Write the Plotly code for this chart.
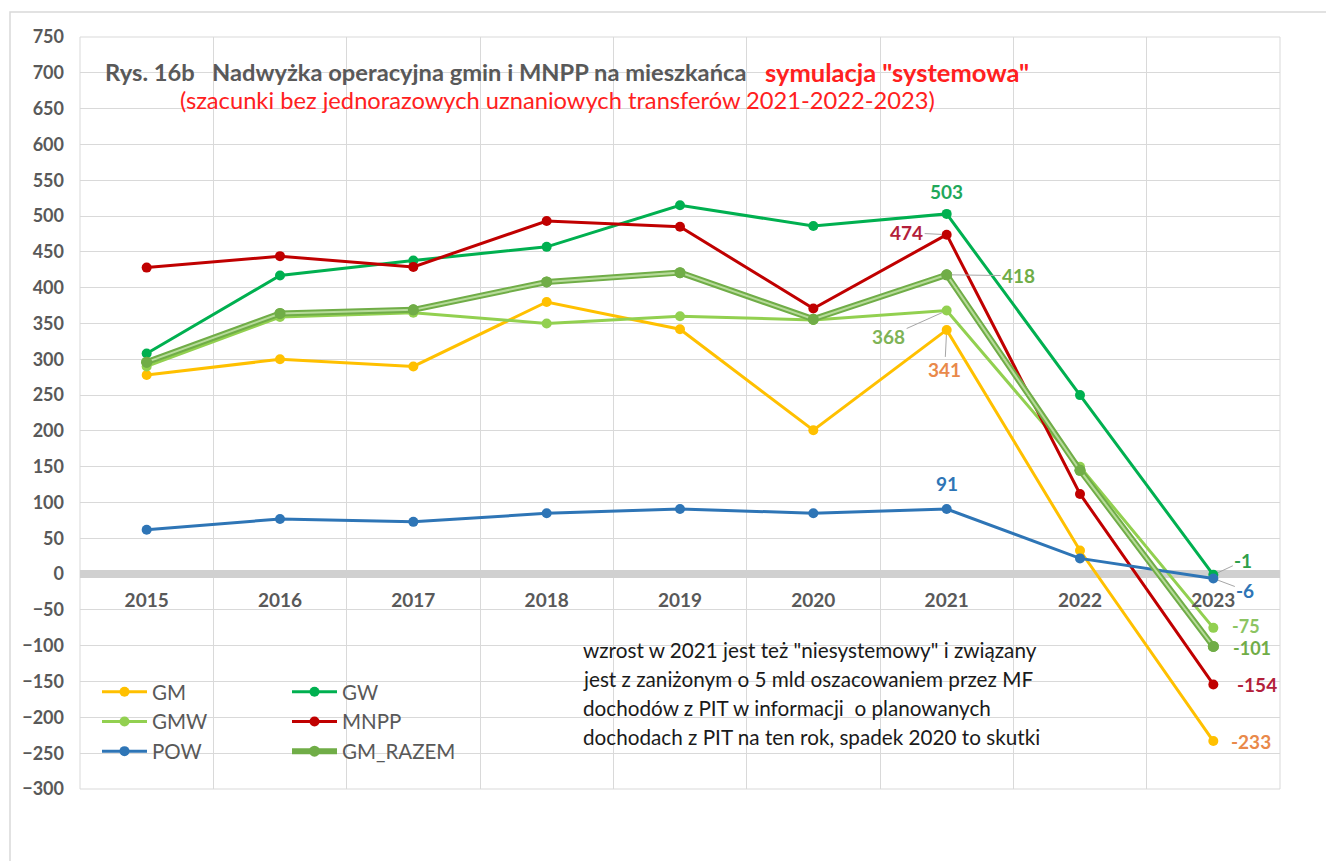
import plotly.graph_objects as go

years = ["2015", "2016", "2017", "2018", "2019", "2020", "2021", "2022", "2023"]
gm = [278, 300, 290, 380, 342, 201, 341, 33, -233]
gw = [308, 417, 438, 457, 515, 486, 503, 250, -1]
gmw = [290, 359, 365, 350, 360, 355, 368, 150, -75]
mnpp = [428, 444, 429, 493, 485, 371, 474, 112, -154]
pow_ = [62, 77, 73, 85, 91, 85, 91, 22, -6]
gm_razem = [296, 364, 369, 408, 421, 356, 418, 145, -101]

y_ticks = list(range(-300, 751, 50))

FONT = "Lato"
GRAY = "#595959"

fig = go.Figure()

def add_series(name, vals, color, legend):
    fig.add_trace(go.Scatter(
        x=years, y=vals, name=name, mode="lines+markers",
        line=dict(color=color, width=3),
        marker=dict(color=color, size=10),
        legend=legend,
    ))

add_series("GM", gm, "#FFC000", "legend")
add_series("GW", gw, "#00B050", "legend2")
add_series("GMW", gmw, "#92D050", "legend")
add_series("MNPP", mnpp, "#C00000", "legend2")
add_series("POW", pow_, "#2E75B6", "legend")

# GM_RAZEM compound line
fig.add_trace(go.Scatter(
    x=years, y=gm_razem, name="GM_RAZEM", mode="lines+markers",
    line=dict(color="#70AD47", width=6),
    marker=dict(color="#70AD47", size=11),
    legend="legend2",
))
fig.add_trace(go.Scatter(
    x=years, y=gm_razem, mode="lines", showlegend=False, hoverinfo="skip",
    line=dict(color="#B7DB9A", width=2),
))
fig.add_trace(go.Scatter(
    x=years, y=gm_razem, mode="markers", showlegend=False, hoverinfo="skip",
    marker=dict(color="#70AD47", size=11),
))

# data labels (x given as category index)
def label(i, series, text, color, ax=0, ay=0, arrow=False, xshift=0, yshift=0, size=19):
    fig.add_annotation(
        x=i, y=series[i], text=f"<b>{text}</b>",
        font=dict(family=FONT, size=size, color=color),
        showarrow=arrow, ax=ax, ay=ay, arrowhead=0, arrowwidth=1,
        arrowcolor="#A6A6A6", standoff=5,
        xshift=xshift, yshift=yshift,
    )

label(6, gw, "503", "#1FA85A", yshift=22)
label(6, mnpp, "474", "#B3203A", arrow=True, ax=-40, ay=-2)
label(6, gm_razem, "418", "#70AD47", arrow=True, ax=72, ay=1)
label(6, gmw, "368", "#7EB356", arrow=True, ax=-58, ay=26)
label(6, gm, "341", "#E9894A", arrow=True, ax=-2, ay=40)
label(6, pow_, "91", "#2E75B6", yshift=25)
label(8, gw, "-1", "#2EA04A", arrow=True, ax=30, ay=-14)
label(8, pow_, "-6", "#2E75B6", arrow=True, ax=32, ay=12)
label(8, gmw, "-75", "#8CC462", xshift=33, yshift=2, size=18)
label(8, gm_razem, "-101", "#70AD47", xshift=39, yshift=-2, size=18)
label(8, mnpp, "-154", "#B3203A", xshift=44)
label(8, gm, "-233", "#E9894A", xshift=38)

# title texts
fig.add_annotation(
    xref="paper", yref="paper", x=(103 - 80) / 1200, y=(789 - 72) / 752,
    xanchor="left", yanchor="middle",
    text="<b>Rys. 16b   Nadwyżka operacyjna gmin i MNPP na mieszkańca</b>",
    showarrow=False, font=dict(family=FONT, size=23.7, color=GRAY),
)
fig.add_annotation(
    xref="paper", yref="paper", x=(763 - 80) / 1200, y=(789 - 72) / 752,
    xanchor="left", yanchor="middle",
    text="<b>symulacja \"systemowa\"</b>",
    showarrow=False, font=dict(family=FONT, size=25.5, color="#FF2020"),
)
fig.add_annotation(
    xref="paper", yref="paper", x=(178 - 80) / 1200, y=(789 - 100) / 752,
    xanchor="left", yanchor="middle",
    text="(szacunki bez jednorazowych uznaniowych transferów 2021-2022-2023)",
    showarrow=False, font=dict(family=FONT, size=23.7, color="#FF2020"),
)

# comment text
comment = [
    "wzrost w 2021 jest też \"niesystemowy\" i związany",
    "jest z zaniżonym o 5 mld oszacowaniem przez MF",
    "dochodów z PIT w informacji  o planowanych",
    "dochodach z PIT na ten rok, spadek 2020 to skutki",
]
for k, line in enumerate(comment):
    fig.add_annotation(
        xref="paper", yref="paper", x=(581 - 80) / 1200, y=(789 - (650 + 29 * k)) / 752,
        xanchor="left", yanchor="middle", text=line, showarrow=False,
        font=dict(family=FONT, size=20.7, color="#1a1a1a"),
    )

# frames
fig.add_shape(type="rect", xref="paper", yref="paper", x0=0, x1=1, y0=0, y1=1,
              line=dict(color="#D9D9D9", width=1), layer="below")
fig.add_shape(type="rect", xref="paper", yref="paper",
              x0=(10 - 80) / 1200, x1=(1327 - 80) / 1200,
              y0=(789 - 900) / 752, y1=(789 - 12) / 752,
              line=dict(color="#D9D9D9", width=1.5), layer="below")

fig.update_layout(
    width=1334, height=861,
    margin=dict(l=72, r=62, t=29, b=80, autoexpand=False),
    paper_bgcolor="white", plot_bgcolor="white",
    font=dict(family=FONT, color=GRAY),
    legend=dict(
        x=(97 - 80) / 1200, y=(789 - 672) / 752, xanchor="left", yanchor="top",
        bgcolor="rgba(0,0,0,0)", font=dict(family=FONT, size=20.5, color=GRAY),
        traceorder="normal", itemwidth=45, tracegroupgap=0,
    ),
    legend2=dict(
        x=(287 - 80) / 1200, y=(789 - 672) / 752, xanchor="left", yanchor="top",
        bgcolor="rgba(0,0,0,0)", font=dict(family=FONT, size=20.5, color=GRAY),
        traceorder="normal", itemwidth=45, tracegroupgap=0,
    ),
    xaxis=dict(
        type="category", range=[-0.5, 8.5], tickson="boundaries",
        showgrid=True, gridcolor="#D9D9D9", gridwidth=1,
        anchor="free", position=300 / 1050, showline=False, ticks="",
        ticklabelstandoff=13,
        tickfont=dict(family=FONT, size=19, color=GRAY, weight="bold"),
        zeroline=False,
    ),
    yaxis=dict(
        range=[-300, 750], tickvals=y_ticks, showgrid=True,
        gridcolor="#D9D9D9", gridwidth=1,
        zeroline=True, zerolinecolor="#D0D0D0", zerolinewidth=8,
        ticks="", ticklabelstandoff=15,
        tickfont=dict(family=FONT, size=18, color=GRAY, weight="bold"),
        showline=False,
    ),
)

fig.write_html("out.html")
